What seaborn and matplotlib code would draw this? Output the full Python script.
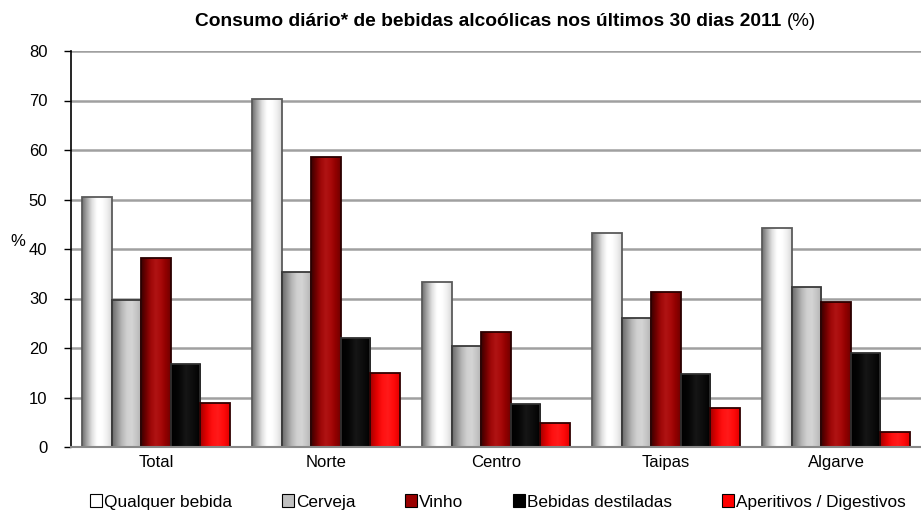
import numpy as np
import pandas as pd
import matplotlib
matplotlib.use("Agg")
import matplotlib.pyplot as plt
import seaborn as sns
from matplotlib.colors import LinearSegmentedColormap
from matplotlib.patches import Patch

# ---- data ----
categories = ["Total", "Norte", "Centro", "Taipas", "Algarve"]
series = ["Qualquer bebida", "Cerveja", "Vinho", "Bebidas destiladas", "Aperitivos / Digestivos"]
qualquer = [50.5, 70.3, 33.3, 43.2, 44.3]
cerveja = [29.6, 35.4, 20.5, 26.0, 32.3]
vinho = [38.2, 58.6, 23.2, 31.3, 29.3]
destiladas = [16.8, 22.0, 8.7, 14.7, 18.9]
aperitivos = [8.9, 15.0, 4.8, 7.8, 3.0]
yticks = [0, 10, 20, 30, 40, 50, 60, 70, 80]

values = [qualquer, cerveja, vinho, destiladas, aperitivos]
df = pd.DataFrame({
    "cat": [c for s in series for c in categories],
    "serie": [s for s in series for c in categories],
    "val": [v for vals in values for v in vals],
})

base_colors = ["#ffffff", "#c0c0c0", "#990000", "#000000", "#ff0000"]
gradients = [
    ["#6e6e6e", "#a8a8a8", "#e0e0e0", "#ffffff", "#ffffff", "#f0f0f0", "#d8d8d8"],
    ["#6a6a6a", "#909090", "#b8b8b8", "#d0d0d0", "#d4d4d4", "#c4c4c4", "#b0b0b0"],
    ["#3a0000", "#700000", "#a00808", "#b01414", "#a80a0a", "#900000", "#700000"],
    ["#000000", "#050505", "#161616", "#0c0c0c", "#000000"],
    ["#a00000", "#e00000", "#ff1010", "#ff1a1a", "#ff0a0a", "#e00000"],
]
edge_colors = ["#5a5a5a", "#3a3a3a", "#2a0000", "#303030", "#300000"]

sns.set_theme(style="white")
plt.rcParams["font.family"] = ["Liberation Sans", "DejaVu Sans"]
plt.rcParams["text.color"] = "black"
plt.rcParams["xtick.color"] = "black"
plt.rcParams["ytick.color"] = "black"
plt.rcParams["axes.labelcolor"] = "black"

fig = plt.figure(figsize=(9.21, 5.12), dpi=100)
ax = fig.add_axes([71 / 921, 1 - 447 / 512, 850 / 921, (447 - 51) / 512])

sns.barplot(data=df, x="cat", y="val", hue="serie", order=categories,
            hue_order=series, palette=base_colors, saturation=1,
            width=0.87, gap=0, legend=False, ax=ax, errorbar=None)

for cont, grad, ec in zip(ax.containers, gradients, edge_colors):
    cmap = LinearSegmentedColormap.from_list("g", grad)
    for bar in cont:
        x0, y0 = bar.get_x(), bar.get_y()
        w, h = bar.get_width(), bar.get_height()
        im = ax.imshow(np.linspace(0, 1, 128).reshape(1, -1), cmap=cmap,
                       aspect="auto", extent=[x0, x0 + w, y0, y0 + h],
                       zorder=1.5, interpolation="bilinear")
        im.set_clip_path(bar)
        bar.set_facecolor("none")
        bar.set_edgecolor(ec)
        bar.set_linewidth(1.3)
        bar.set_zorder(2)

ax.set_xlim(-0.5, len(categories) - 0.5)
ax.set_ylim(0, 80)
ax.set_yticks(yticks)
ax.set_yticklabels([str(t) for t in yticks], fontsize=12)
ax.set_axisbelow(True)
ax.yaxis.grid(True, color="#a0a0a0", linewidth=1.8)
ax.xaxis.grid(False)

ax.set_xticks(range(len(categories)))
ax.set_xticklabels(categories, fontsize=12)
ax.set_xticks(np.arange(-0.5, len(categories), 1.0), minor=True)
ax.tick_params(axis="x", which="major", length=0, pad=6)
ax.tick_params(axis="x", which="minor", length=5, width=1, color="black", direction="out")
ax.tick_params(axis="y", which="major", length=5, width=1, color="black", direction="out", left=True, pad=12)

for s in ["top", "right"]:
    ax.spines[s].set_visible(False)
ax.spines["left"].set_color("#000000")
ax.spines["left"].set_linewidth(1.2)
ax.spines["bottom"].set_color("#888888")
ax.spines["bottom"].set_linewidth(1.5)

ax.set_xlabel("")
ax.set_ylabel("%", rotation=0, fontsize=12)
ax.yaxis.set_label_coords(-0.062, 0.5)

fig.text(781 / 921, 1 - 22 / 512, "Consumo diário* de bebidas alcoólicas nos últimos 30 dias 2011",
         fontsize=13.8, fontweight="bold", ha="right", va="center")
fig.text(787 / 921, 1 - 22 / 512, "(%)", fontsize=13.5, ha="left", va="center")

handles = [Patch(facecolor=c, edgecolor="black", linewidth=0.8) for c in base_colors]
fig.legend(handles, series, loc="center", bbox_to_anchor=(498 / 921, 1 - 502 / 512),
           ncol=5, frameon=False, fontsize=12.4, handlelength=0.7, handleheight=0.7,
           handletextpad=0.1, columnspacing=2.9, borderaxespad=0)

fig.savefig("out.png", dpi=100)
